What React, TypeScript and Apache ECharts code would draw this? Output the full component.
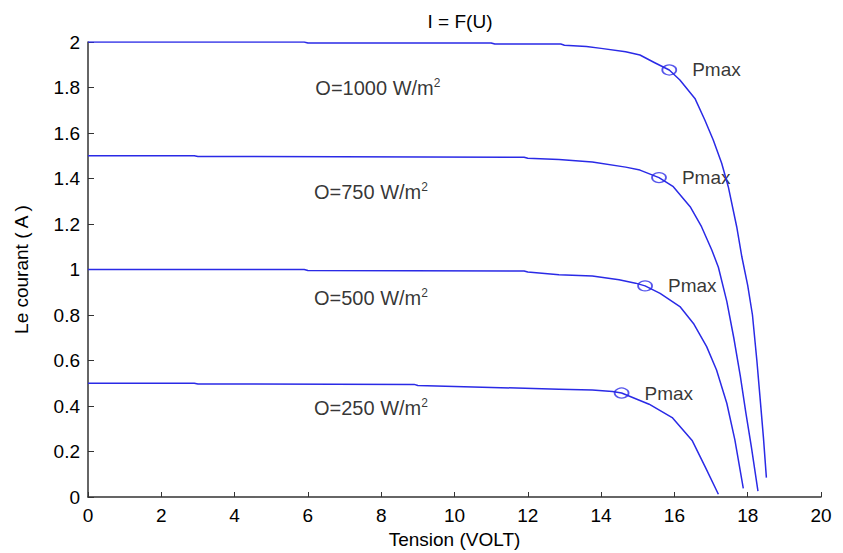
import React, { useEffect, useRef } from "react";
import * as echarts from "echarts";

// Current (A) vs voltage (V) for four irradiance levels
const volt1000 = [0, 5.9, 6.0, 11.0, 11.1, 12.9, 13.0, 13.6, 14.0, 14.67, 15.06, 15.45, 15.86, 16.15, 16.56, 16.83, 17.06, 17.29, 17.47, 17.7, 17.84, 18.0, 18.13, 18.25, 18.33, 18.43, 18.51];
const cur1000 = [2.0, 2.0, 1.996, 1.996, 1.991, 1.991, 1.986, 1.98, 1.972, 1.957, 1.943, 1.91, 1.877, 1.833, 1.752, 1.657, 1.569, 1.467, 1.364, 1.188, 1.056, 0.93, 0.8, 0.6, 0.45, 0.26, 0.085];

const volt750 = [0, 2.9, 3.0, 11.9, 12.0, 12.85, 13.76, 14.67, 15.06, 15.58, 15.97, 16.43, 16.74, 17.02, 17.2, 17.43, 17.62, 17.8, 17.95, 18.1, 18.28];
const cur750 = [1.5, 1.5, 1.497, 1.493, 1.489, 1.483, 1.473, 1.45, 1.437, 1.404, 1.364, 1.276, 1.188, 1.086, 1.01, 0.86, 0.7, 0.53, 0.37, 0.22, 0.026];

const volt500 = [0, 5.9, 6.0, 11.9, 12.0, 12.85, 13.76, 14.49, 14.94, 15.2, 15.61, 16.15, 16.52, 16.88, 17.15, 17.43, 17.65, 17.88];
const cur500 = [1.0, 1.0, 0.996, 0.993, 0.989, 0.977, 0.971, 0.955, 0.94, 0.928, 0.895, 0.837, 0.763, 0.661, 0.558, 0.412, 0.251, 0.038];

const volt250 = [0, 2.9, 3.0, 8.9, 9.0, 12.85, 13.76, 14.31, 14.56, 15.31, 15.94, 16.49, 16.85, 17.2];
const cur250 = [0.5, 0.5, 0.497, 0.495, 0.49, 0.474, 0.47, 0.464, 0.457, 0.408, 0.349, 0.247, 0.129, 0.012];

// Maximum power points
const pmaxVolt = [15.86, 15.58, 15.2, 14.56];
const pmaxCur = [1.877, 1.404, 0.928, 0.457];
const pmaxLabel = "Pmax";

// Irradiance annotations
const irrLabels = ["O=1000 W/m", "O=750 W/m", "O=500 W/m", "O=250 W/m"];
const irrVolt = [7.91, 7.72, 7.72, 7.72];
const irrCur = [1.8, 1.34, 0.875, 0.391];

const xTicks = [0, 2, 4, 6, 8, 10, 12, 14, 16, 18, 20];
const yTicks = [0, 0.2, 0.4, 0.6, 0.8, 1, 1.2, 1.4, 1.6, 1.8, 2];

const BLUE = "#2a2ae6";
const FONT = "Liberation Sans, Arial, sans-serif";

function zip(xs: number[], ys: number[]) {
  return xs.map((x, i) => [x, ys[i]]);
}

export default function App() {
  const ref = useRef<HTMLDivElement>(null);
  useEffect(() => {
    if (!ref.current) return;
    const chart = echarts.init(ref.current, undefined, { renderer: "svg" });
    const lineSeries = [
      [volt1000, cur1000],
      [volt750, cur750],
      [volt500, cur500],
      [volt250, cur250],
    ].map(([xs, ys]) => ({
      type: "line",
      data: zip(xs, ys),
      showSymbol: false,
      symbol: "none",
      smooth: false,
      lineStyle: { color: BLUE, width: 1.5, join: "round" },
      silent: true,
    }));
    chart.setOption({
      animation: false,
      backgroundColor: "#ffffff",
      textStyle: { fontFamily: FONT },
      title: {
        text: "I = F(U)",
        left: 455,
        top: 7,
        textAlign: "center",
        textStyle: { fontSize: 19, fontWeight: "normal", color: "#000", fontFamily: FONT },
      },
      grid: { left: 88, top: 42, width: 733, height: 455, containLabel: false, outerBoundsMode: "none" },
      xAxis: {
        type: "value",
        min: xTicks[0],
        max: xTicks[xTicks.length - 1],
        interval: 2,
        name: "Tension (VOLT)",
        nameLocation: "middle",
        nameGap: 29,
        nameTextStyle: { fontSize: 19, color: "#000", fontFamily: FONT },
        axisLine: { show: true, lineStyle: { color: "#333", width: 1.5 } },
        axisTick: { show: true, inside: true, length: 5, lineStyle: { color: "#333" } },
        axisLabel: { fontSize: 19, color: "#000", margin: 9, fontFamily: FONT },
        splitLine: { show: false },
      },
      yAxis: {
        type: "value",
        min: yTicks[0],
        max: yTicks[yTicks.length - 1],
        interval: 0.2,
        name: "Le courant ( A )",
        nameLocation: "middle",
        nameGap: 57,
        nameRotate: 90,
        nameTextStyle: { fontSize: 19, color: "#000", fontFamily: FONT },
        axisLine: { show: true, lineStyle: { color: "#333", width: 1.5 } },
        axisTick: { show: true, inside: true, length: 6, lineStyle: { color: "#333" } },
        axisLabel: {
          fontSize: 19,
          color: "#000",
          margin: 8,
          fontFamily: FONT,
          formatter: (v: number) => String(Math.round(v * 10) / 10),
        },
        splitLine: { show: false },
      },
      series: [
        ...lineSeries,
        {
          type: "scatter",
          data: zip(pmaxVolt, pmaxCur),
          symbol: "circle",
          symbolSize: [14, 10],
          itemStyle: { color: "rgba(0,0,0,0)", borderColor: BLUE, borderWidth: 1.5 },
          label: {
            show: true,
            position: "right",
            distance: 15,
            formatter: pmaxLabel,
            fontSize: 19,
            color: "#000",
            fontFamily: FONT,
          },
          silent: true,
        },
        {
          type: "scatter",
          data: irrVolt.map((x, i) => ({ value: [x, irrCur[i]], name: irrLabels[i] })),
          symbolSize: 0,
          itemStyle: { color: "rgba(0,0,0,0)" },
          label: {
            show: true,
            position: "inside",
            formatter: (p: any) => `{n|${p.name}}{s|2}`,
            rich: {
              n: { fontSize: 20, color: "#000", fontFamily: FONT },
              s: { fontSize: 12, color: "#000", fontFamily: FONT, padding: [0, 0, 10, 0] },
            },
          },
          silent: true,
        },
      ],
    });
    return () => chart.dispose();
  }, []);
  return (
    <div
      ref={ref}
      style={{ position: "absolute", left: 0, top: 0, width: 843, height: 553 }}
    />
  );
}
